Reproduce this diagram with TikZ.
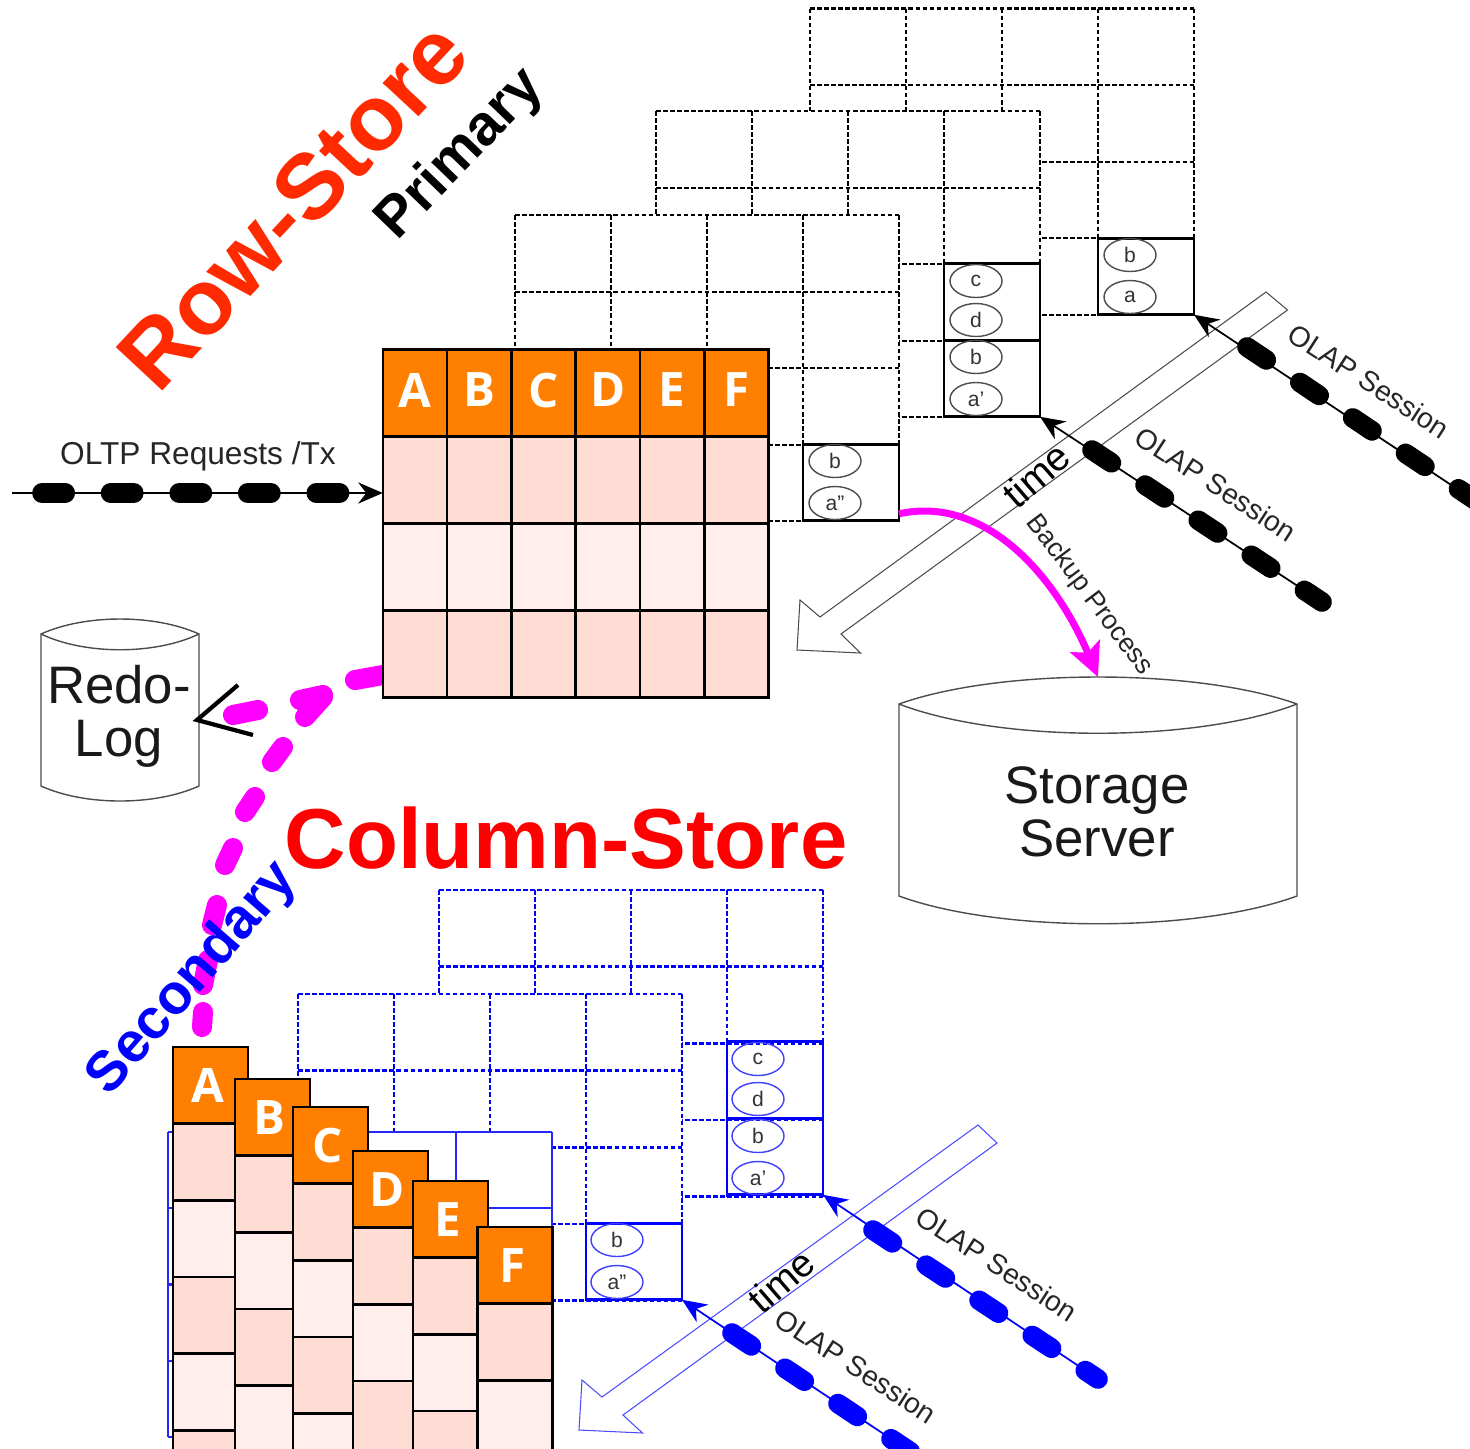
\documentclass[tikz,border=0pt]{standalone}
\usepackage{fontspec}
\setmainfont{Liberation Sans}
\newfontfamily\hdrfont[Scale=1]{Open Sans}
\usetikzlibrary{arrows.meta,calc,shapes.geometric}

\definecolor{hdrorange}{HTML}{FF7F00}
\definecolor{rowdark}{HTML}{FFDDD5}
\definecolor{rowlight}{HTML}{FFEEEB}
\definecolor{rowred}{HTML}{FF2A00}
\definecolor{pinkline}{HTML}{FF00FF}

\tikzset{
  gridline/.style={line width=0.6pt,dash pattern=on 1.3pt off 0.7pt},
  cellbox/.style={draw=#1,line width=0.8pt,minimum width=0.96cm,minimum height=0.765cm,inner sep=0,outer sep=0},
  verbox/.style={draw=#1,line width=0.4pt,minimum width=0.52cm,minimum height=0.33cm,inner sep=0,ellipse,font=\fontsize{6}{6}\selectfont,text=black!80},
  hdrcell/.style={draw=black,fill=hdrorange,line width=0.75pt,inner sep=0,outer sep=0,text=white,font=\hdrfont\bfseries\fontsize{13.5}{13.5}\selectfont},
  datacell/.style={draw=black,line width=0.75pt,inner sep=0,outer sep=0},
  sessline/.style={draw=#1,line width=0.5pt,-{Stealth[length=7pt,width=6pt]}},
  sessblobs/.style={draw=#1,line width=5.6pt,line cap=round,dash pattern=on 6.6pt off 11.5pt},
  timearrow/.style={draw=#1,fill=white,line width=0.3pt},
  sesslabel/.style={font=\fontsize{8.1}{8.1}\selectfont,text=black!85,inner sep=0},
  dbline/.style={draw=black!70,line width=0.4pt},
  dblabel/.style={font=\fontsize{15}{15}\selectfont,align=center,text=black!90,inner sep=0},
  replic/.style={draw=pinkline,line width=5.7pt,line cap=round}
}

\newcommand{\dashgrid}[3]{%
  \fill[white] (#1,#2) rectangle (#1+384,#2+306.5);
  \foreach \i in {0,...,4} {
    \draw[gridline,#3] (#1+96*\i,#2) -- (#1+96*\i,#2+306.5);
    \draw[gridline,#3] (#1,#2+76.6*\i) -- (#1+384,#2+76.6*\i);
  }
}

\begin{document}
\begin{tikzpicture}[x=0.01cm,y=-0.01cm]
  \useasboundingbox (0,0) rectangle (1470,1448);

  % primary side
  \dashgrid{810}{8.5}{black}
  \dashgrid{656}{111}{black}
  \dashgrid{515}{215}{black}

  \node[cellbox=black] (cellA) at (1146,276.5) {};
  \node[cellbox=black] (cellB) at (992,302) {};
  \node[cellbox=black] (cellC) at (992,378.5) {};
  \node[cellbox=black] (cellD) at (851,482.5) {};
  \foreach \nm/\lab/\xx/\yy in {e1/b/1130/255,e2/a/1130/297,e3/c/976/281,e4/d/976/320,e5/b/976/357,e6/a'/976/399,e7/b/835/461,e8/a''/835/503}
    \node[verbox=black!70] (\nm) at (\xx,\yy) {\lab};

  \draw[timearrow=black!70] (1266,292) -- (1287.5,310) -- (841,634) -- (860.5,653) -- (797,650) -- (800,600) -- (820,617) -- cycle;
  \node[rotate=41,font=\fontsize{11.3}{11.3}\selectfont,inner sep=0] (timeA) at (1036,475) {time};

  % sessions
  \coordinate (sessA) at (1560,557);
  \coordinate (sessAb) at (1247,347);
  \coordinate (sessB) at (1322,602);
  \coordinate (sessBb) at (1092,450);
  \draw[sessblobs=black] (sessAb) -- (sessA);
  \draw[sessblobs=black] (sessBb) -- (sessB);
  \draw[sessline=black] (sessA) -- (cellA.south east);
  \draw[sessline=black] (sessB) -- (cellC.south east);
  \node[sesslabel,rotate=-33] (olapA) at (1369,381) {OLAP Session};
  \node[sesslabel,rotate=-33] (olapB) at (1216,484) {OLAP Session};

  % storage
  \draw[dbline] (899,704) .. controls (1000,668) and (1196,668) .. (1297,704) -- (1297,896) .. controls (1196,933) and (1000,933) .. (899,896) -- cycle;
  \draw[dbline] (899,704) .. controls (1000,743) and (1196,743) .. (1297,704);
  \coordinate (stotop) at (1098,677);
  \node[dblabel] (storage) at (1097,812) {Storage\\Server};
  \draw[pinkline,line width=2pt,-{Stealth[length=9.5pt,width=9pt,inset=2pt]}] (cellD.south east) ++(0,-7) .. controls (985,495) and (1055,575) .. (stotop);
  \node[rotate=-53,font=\fontsize{7.6}{7.6}\selectfont,text=black!85,inner sep=0] (backup) at (1089,595) {Backup Process};

  % redo log
  \draw[dbline] (41,634) .. controls (85,614) and (155,614) .. (199,634) -- (199,786) .. controls (155,806) and (85,806) .. (41,786) -- cycle;
  \draw[dbline] (41,634) .. controls (85,655) and (155,655) .. (199,634);
  \node[dblabel] (redo) at (119,716) {Redo-\\Log};

  % replication to redo log and column store
  \foreach \ax/\ay/\bx/\by in {355/680/383/675,300/700/323/695,305/717/323/697,233/715/258/710,272/762/283/747,245/812/255/797,225/865/233/848,212/925/217/905,203/985/208/960,202/1027/203/1012}
    \draw[replic] (\ax,\ay) -- (\bx,\by);
  \coordinate (redotip) at (197,720);
  \draw[black,line width=1.2pt] (238,685) -- (redotip) -- (253,735);

  % row store table
  \foreach \c/\lab/\xx in {1/A/415,2/B/479.3,3/C/543.6,4/D/607.9,5/E/672.2,6/F/736.5} {
    \node[hdrcell,text depth=0.06cm,minimum width=0.643cm,minimum height=0.865cm] (rh-\c) at (\xx,393) {\lab};
    \foreach \r/\fc in {1/rowdark,2/rowlight,3/rowdark}
      \node[datacell,fill=\fc,minimum width=0.643cm,minimum height=0.87cm] (rt-\r-\c) at (\xx,436.5+87*\r-43.5) {};
  }

  \coordinate (oltpA) at (12,493);
  \coordinate (oltpB) at (42,493);
  \draw[sessblobs=black,dash pattern=on 6.6pt off 12.9pt] (oltpB) -- (340,493);
  \draw[sessline=black] (oltpA) -- (rt-1-1.west |- oltpA);
  \node[font=\fontsize{9}{9}\selectfont,text=black!85,inner sep=0] (oltp) at (198,456) {OLTP Requests /Tx};

  % secondary side
  \dashgrid{439}{890}{blue,line width=0.75pt}
  \dashgrid{298}{994}{blue,line width=0.75pt}
  \node[cellbox=blue] (cellE) at (775,1080) {};
  \node[cellbox=blue] (cellF) at (775,1156.5) {};
  \node[cellbox=blue] (cellG) at (634,1261.5) {};
  \foreach \nm/\lab/\xx/\yy in {f1/c/758/1059,f2/d/758/1099,f3/b/758/1136,f4/a'/758/1178,f5/b/617/1240,f6/a''/617/1282}
    \node[verbox=blue!75] (\nm) at (\xx,\yy) {\lab};

  \fill[white] (168,1132) rectangle (552,1437);
  \foreach \i in {0,...,4} {
    \draw[blue!85,line width=0.6pt] (168+96*\i,1132) -- (168+96*\i,1437);
    \draw[blue!85,line width=0.6pt] (168,1132+76.25*\i) -- (552,1132+76.25*\i);
  }

  \draw[timearrow=blue!70] (978,1125) -- (997,1143) -- (623,1415) -- (642.5,1433) -- (579,1430) -- (582,1380) -- (602,1397) -- cycle;
  \node[rotate=41,font=\fontsize{11}{11}\selectfont,inner sep=0] (timeB) at (781,1281) {time};

  \coordinate (sessC) at (1098,1379);
  \coordinate (sessCb) at (873,1230);
  \coordinate (sessD) at (1010,1518);
  \coordinate (sessDb) at (732,1333);
  \draw[sessblobs=blue] (sessCb) -- (sessC);
  \draw[sessblobs=blue] (sessDb) -- (sessD);
  \draw[sessline=blue] (sessC) -- (cellF.south east);
  \draw[sessline=blue] (sessD) -- (cellG.south east);
  \node[sesslabel,rotate=-33] (olapC) at (997,1264) {OLAP Session};
  \node[sesslabel,rotate=-33] (olapD) at (856,1366) {OLAP Session};

  % column store table
  \foreach \lab/\xx/\yy in {A/173/1047,B/235/1079,C/293/1107,D/353/1151,E/413/1181,F/477.5/1227} {
    \node[hdrcell,anchor=north west,minimum width=0.75cm,minimum height=0.765cm] (ch-\lab) at (\xx,\yy) {\lab\kern1.7pt};
    \foreach \r/\fc in {0/rowdark,1/rowlight,2/rowdark,3/rowlight,4/rowdark}
      \node[datacell,fill=\fc,anchor=north west,minimum width=0.75cm,minimum height=0.767cm] (ct-\lab-\r) at (\xx,\yy+76.5+76.7*\r) {};
  }

  % titles
  \node[rotate=47,text=rowred,font=\bfseries\fontsize{26.3}{26.3}\selectfont,inner sep=0] (rowtitle) at (293,205) {Row-Store};
  \node[rotate=46,font=\bfseries\fontsize{16.2}{16.2}\selectfont,inner sep=0] (primary) at (461,155) {Primary};
  \node[text=red,font=\bfseries\fontsize{24.2}{24.2}\selectfont,inner sep=0] (coltitle) at (566,838) {Column-Store};
  \node[rotate=49,text=blue,font=\bfseries\fontsize{16}{16}\selectfont,inner sep=0] (secondary) at (193,979) {Secondary};
\end{tikzpicture}
\end{document}
